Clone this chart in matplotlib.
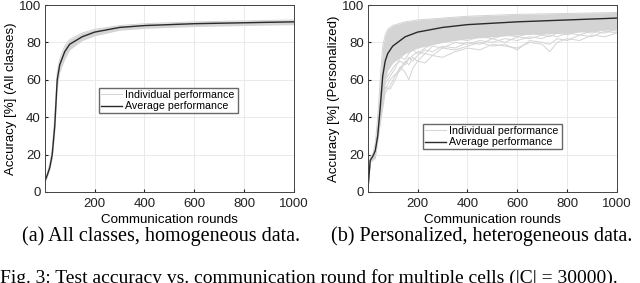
import numpy as np
import matplotlib.pyplot as plt

# panel (a): all classes, homogeneous data
a_x = [1, 10, 20, 30, 40, 50, 60, 80, 100, 150, 200, 300, 400, 600, 800, 1000]
a_avg = [6, 9, 13, 20, 35, 60, 68, 75, 79, 83, 85.5, 88, 89, 90, 90.5, 91]
a_hi = [7, 10, 15, 23, 40, 64, 71, 78, 81.5, 85, 87, 89, 90, 91, 91.5, 92]
a_lo = [5, 8, 12, 18, 32, 55, 64, 71, 76, 81, 83.5, 86.5, 87.5, 88.5, 89, 89.5]

# panel (b): personalized, heterogeneous data
b_x = [1, 10, 20, 30, 40, 50, 60, 70, 80, 100, 150, 200, 300, 400, 600, 800, 1000]
b_avg = [2, 17, 19, 22, 30, 45, 62, 70, 74, 78, 83, 85.5, 88, 89.5, 91, 92, 93]
b_hi = [2, 19, 20, 26, 40, 60, 78, 84, 87, 89, 91, 92, 93, 94, 95, 95.5, 96]
b_mid = [2, 16, 17, 18, 27, 40, 52, 60, 65, 69, 74, 77, 80, 82, 84, 85, 87]

# some of the weaker individual curves in (b)
b_ind_x = [1, 10, 30, 50, 70, 90, 110, 130, 150, 165, 180, 200, 230, 260, 300, 350,
           400, 450, 500, 550, 600, 650, 700, 730, 760, 800, 850, 900, 950, 1000]
b_ind = [
    [2, 16, 18, 36, 53, 57, 62, 67, 64, 60, 66, 70, 69, 73, 72, 75,
     77, 76, 79, 78, 77, 80, 79, 75, 80, 82, 81, 84, 83, 85],
    [2, 17, 20, 40, 56, 55, 60, 66, 70, 68, 72, 70, 74, 73, 77, 76,
     78, 80, 78, 79, 76, 81, 80, 79, 82, 81, 84, 83, 86, 85],
    [2, 17, 21, 42, 60, 64, 68, 70, 68, 71, 73, 75, 74, 78, 77, 80,
     79, 81, 80, 82, 81, 83, 82, 84, 83, 85, 84, 86, 85, 87],
    [2, 16, 19, 38, 55, 60, 63, 65, 69, 72, 70, 73, 76, 75, 78, 77,
     80, 79, 82, 80, 83, 82, 84, 83, 85, 84, 86, 85, 87, 86],
    [2, 17, 20, 41, 58, 62, 66, 72, 71, 74, 76, 74, 77, 79, 80, 82,
     81, 83, 82, 84, 83, 85, 84, 86, 85, 87, 86, 88, 87, 88],
]

ind_col = '#d4d4d4'
avg_col = '#2a2a2a'

plt.rcParams['font.family'] = ['Liberation Sans', 'DejaVu Sans']
fig = plt.figure(figsize=(6.4, 2.83), dpi=100)

panels = [
    (45, a_x, a_avg, a_hi, a_lo, [], 'Accuracy [%] (All classes)',
     (99, 83, 139, 30), '(a) All classes, homogeneous data.', 161),
    (368, b_x, b_avg, b_hi, b_mid, b_ind, 'Accuracy [%] (Personalized)',
     (423, 122, 139, 27), '(b) Personalized, heterogeneous data.', 482),
]

W, H = 640, 283
for left, x, avg, hi, lo, ind, ylab, leg, cap, capx in panels:
    ax = fig.add_axes([left / W, 1 - 192 / H, 249 / W, 187 / H])
    ax.fill_between(x, lo, hi, color=ind_col, lw=0)
    for y in ind:
        ax.plot(b_ind_x, y, color=ind_col, lw=0.7)
    ax.plot(x, hi, color=ind_col, lw=0.7, label='Individual performance')
    ax.plot(x, avg, color=avg_col, lw=1.0, label='Average performance')
    ax.set_xlim(1, 1000)
    ax.set_ylim(0, 100)
    ax.set_xticks([200, 400, 600, 800, 1000])
    ax.set_yticks([0, 20, 40, 60, 80, 100])
    ax.grid(True, color='#e6e6e6', lw=0.6)
    ax.set_axisbelow(True)
    ax.tick_params(labelsize=9.5, length=2, direction='in', colors='#222222')
    ax.tick_params(axis='x', pad=4.5)
    ax.tick_params(axis='y', pad=3)
    for s in ax.spines.values():
        s.set_color('#444444')
        s.set_linewidth(0.7)
    ax.set_xlabel('Communication rounds', fontsize=9.6, labelpad=3)
    ax.set_ylabel(ylab, fontsize=9.5, labelpad=1)
    lx, ly, lw_, lh = leg
    ax.legend(loc='lower left',
              bbox_to_anchor=(lx / W, 1 - (ly + lh) / H, lw_ / W, lh / H),
              bbox_transform=fig.transFigure, mode='expand',
              fontsize=7.7, frameon=True, fancybox=False, edgecolor='#444444',
              handlelength=2.0, handletextpad=0.3, borderpad=0.15,
              labelspacing=0.15, borderaxespad=0)
    fig.text(capx / W, 1 - 236 / H, cap, ha='center', va='center',
             fontsize=14.5, family='Liberation Serif')

fig.text(0.0, 1 - 269 / H,
         'Fig. 3: Test accuracy vs. communication round for multiple cells (|C| = 30000).',
         ha='left', va='top', fontsize=14, family='Liberation Serif')

fig.savefig('out.png', dpi=100)
